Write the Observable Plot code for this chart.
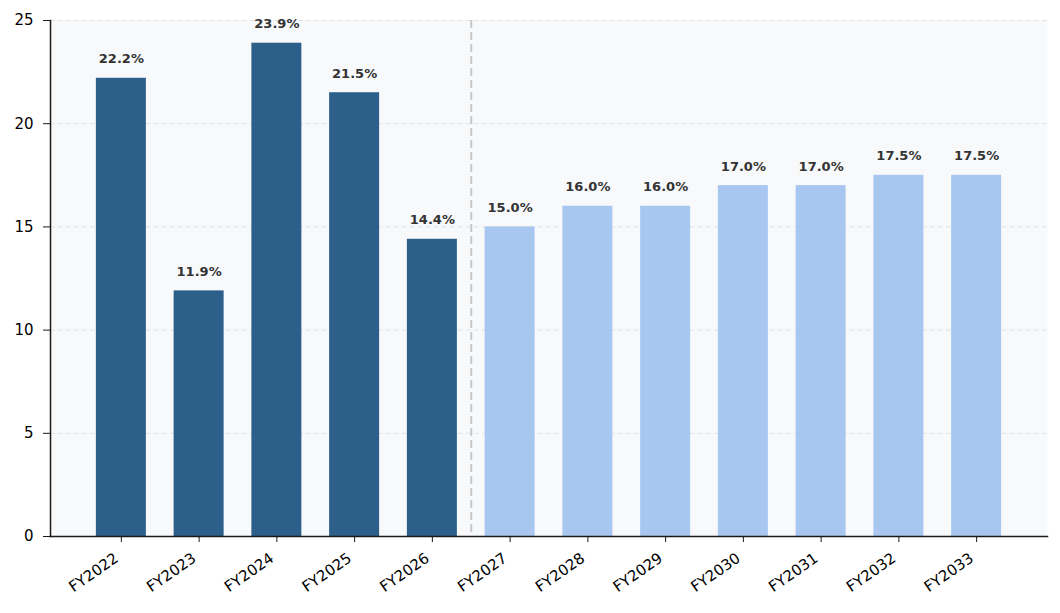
<!DOCTYPE html>
<html>
<head>
<meta charset="utf-8">
<script src="https://cdn.jsdelivr.net/npm/d3@7"></script>
<script src="https://cdn.jsdelivr.net/npm/@observablehq/plot@0.6"></script>
<style>
  html, body { margin: 0; padding: 0; background: #ffffff; }
  #chart { width: 1060px; height: 613px; }
</style>
</head>
<body>
<div id="chart"></div>
<script>
const years = ["FY2022","FY2023","FY2024","FY2025","FY2026","FY2027","FY2028","FY2029","FY2030","FY2031","FY2032","FY2033"];
const growth = [22.2, 11.9, 23.9, 21.5, 14.4, 15.0, 16.0, 16.0, 17.0, 17.0, 17.5, 17.5];
const period = ["actual","actual","actual","actual","actual","forecast","forecast","forecast","forecast","forecast","forecast","forecast"];
const yTicks = [0, 5, 10, 15, 20, 25];
const splitAfter = "FY2026";

const data = years.map((y, i) => ({year: y, value: growth[i], period: period[i]}));

const W = 1060, H = 613;
const mL = 50, mR = 13, mT = 20, mB = 77;
const padInner = 0.357, padOuter = 0.59;
const step = (W - mL - mR) / (years.length - padInner + 2 * padOuter);

const chart = Plot.plot({
  width: W,
  height: H,
  marginLeft: mL,
  marginRight: mR,
  marginTop: mT,
  marginBottom: mB,
  style: {fontFamily: "DejaVu Sans", fontSize: "14px", color: "#000", background: "#fff"},
  x: {type: "band", domain: years, paddingInner: padInner, paddingOuter: padOuter, round: false, label: null},
  y: {domain: [0, 25], label: null},
  color: {domain: ["actual", "forecast"], range: ["#2c5f8a", "#a8c7f0"]},
  marks: [
    Plot.frame({fill: "#f8f9fb", stroke: null}),
    Plot.gridY(yTicks.filter(d => d > 0), {stroke: "#e0e3e8", strokeOpacity: 1, strokeWidth: 1, strokeDasharray: "5,3"}),
    Plot.ruleX([splitAfter], {dx: step / 2, stroke: "#c8c8c8", strokeWidth: 2, strokeDasharray: "8,4"}),
    Plot.barY(data, {x: "year", y: "value", fill: "period"}),
    Plot.text(data, {x: "year", y: "value", text: d => d.value.toFixed(1) + "%", dy: -19, fill: "#333333", fontWeight: "bold", fontSize: 13, fontFamily: "DejaVu Sans"}),
    Plot.axisY({ticks: yTicks, tickSize: 7, tickFormat: () => "", stroke: "#1a1a1a", label: null}),
    Plot.text(yTicks, {y: d => d, text: d => String(d), frameAnchor: "left", dx: -17, textAnchor: "end", fontSize: 15, fontFamily: "DejaVu Sans", fill: "#000"}),
    Plot.axisX({tickSize: 6, tickFormat: () => "", label: null, stroke: "#1a1a1a"}),
    Plot.text(years, {x: d => d, frameAnchor: "bottom", dy: 24, dx: -2, rotate: -35, textAnchor: "end", fontSize: 15, fontFamily: "DejaVu Sans", fill: "#000"}),
    Plot.frame({anchor: "left", stroke: "#1a1a1a", strokeWidth: 1.5}),
    Plot.frame({anchor: "bottom", stroke: "#1a1a1a", strokeWidth: 1.5})
  ]
});
document.getElementById("chart").appendChild(chart);
</script>
</body>
</html>
